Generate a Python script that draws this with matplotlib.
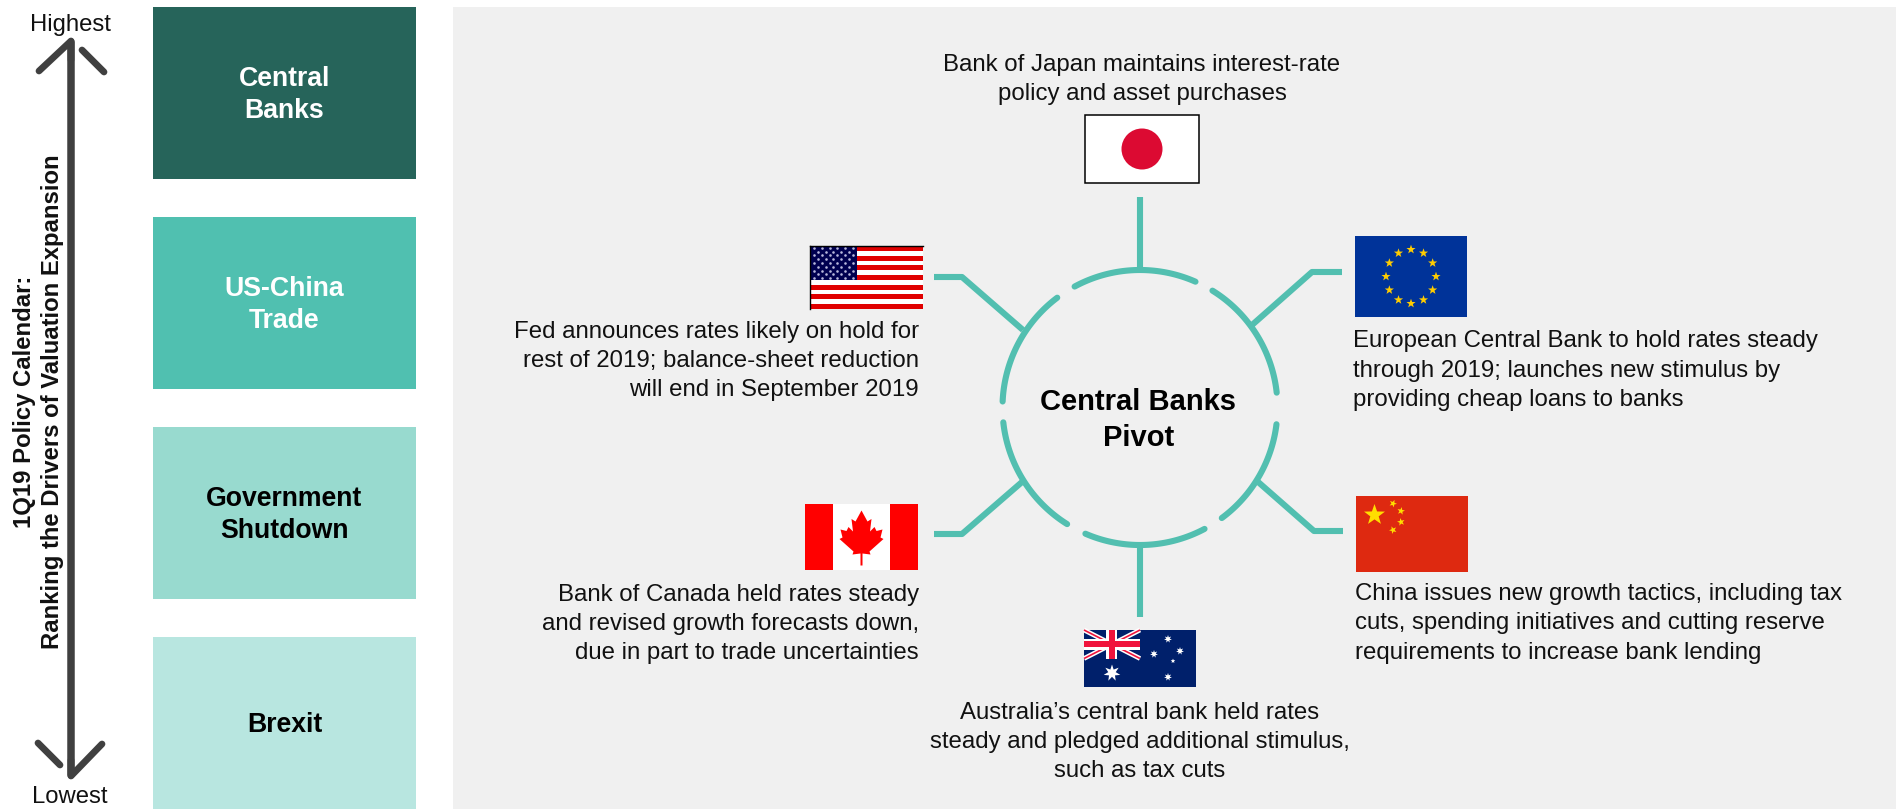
import numpy as np
import matplotlib
matplotlib.use('Agg')
import matplotlib.pyplot as plt
from matplotlib.patches import Rectangle, Polygon, Circle

plt.rcParams['font.family'] = ['Liberation Sans', 'DejaVu Sans']

# left column, top to bottom
drivers = ['Central\nBanks', 'US-China\nTrade', 'Government\nShutdown', 'Brexit']
driver_fill = ['#26645A', '#50C0B0', '#98DACF', '#B8E6E0']
driver_text = ['white', 'white', 'black', 'black']

axis_title = '1Q19 Policy Calendar:\nRanking the Drivers of Valuation Expansion'
axis_top = 'Highest'
axis_bottom = 'Lowest'

hub_label = 'Central Banks\nPivot'
note_japan = 'Bank of Japan maintains interest-rate\npolicy and asset purchases'
note_us = 'Fed announces rates likely on hold for\nrest of 2019; balance-sheet reduction\nwill end in September 2019'
note_eu = 'European Central Bank to hold rates steady\nthrough 2019; launches new stimulus by\nproviding cheap loans to banks'
note_canada = 'Bank of Canada held rates steady\nand revised growth forecasts down,\ndue in part to trade uncertainties'
note_china = 'China issues new growth tactics, including tax\ncuts, spending initiatives and cutting reserve\nrequirements to increase bank lending'
note_australia = 'Australia\u2019s central bank held rates\nsteady and pledged additional stimulus,\nsuch as tax cuts'

TEAL = '#52BFB0'
DARK = '#404040'
W, H = 1896, 809
FS = 17.3


def star(ax, cx, cy, r, color, points=5, inner=0.4, rot=0.0, z=5):
    ang = np.pi / 2 + rot + np.arange(points * 2) * np.pi / points
    rad = np.where(np.arange(points * 2) % 2 == 0, r, r * inner)
    xy = np.c_[cx + rad * np.cos(ang), cy - rad * np.sin(ang)]
    ax.add_patch(Polygon(xy, closed=True, fc=color, ec='none', zorder=z))


def rect(ax, x0, y0, x1, y1, color, z=4):
    ax.add_patch(Rectangle((x0, y0), x1 - x0, y1 - y0, fc=color, ec='none', zorder=z))


def flag_japan(ax, x0, y0, x1, y1):
    ax.add_patch(Rectangle((x0, y0), x1 - x0, y1 - y0, fc='white', ec='black', lw=1.1, zorder=4))
    ax.add_patch(Circle(((x0 + x1) / 2, (y0 + y1) / 2), 20.5, fc='#DC0A32', ec='none', zorder=5))


def flag_us(ax, x0, y0, x1, y1):
    rect(ax, x0, y0, x1, y1, 'white')
    h = (y1 - y0) / 13
    for i in range(0, 13, 2):
        rect(ax, x0, y0 + i * h, x1, y0 + (i + 1) * h, '#E00000')
    cw, ch = (x1 - x0) * 0.415, h * 7
    rect(ax, x0, y0, x0 + cw, y0 + ch, '#000050', z=5)
    # 9 rows of alternating 6 and 5 stars, shown as dots at this size
    xs, ys = [], []
    for row in range(9):
        n = 6 if row % 2 == 0 else 5
        off = 0 if row % 2 == 0 else 0.5
        for col in range(n):
            xs.append(x0 + cw * (col + off + 0.5) / 6)
            ys.append(y0 + ch * (row + 0.5) / 9)
    ax.scatter(xs, ys, s=3.5, c='#B8B8DC', linewidths=0, zorder=6)
    ax.plot([x0, x0], [y0, y1], color='black', lw=1, zorder=7)
    ax.plot([x0, x1], [y0, y0], color='black', lw=1, zorder=7)


def flag_canada(ax, x0, y0, x1, y1):
    rect(ax, x0, y0, x1, y1, '#FF0000')
    w = x1 - x0
    rect(ax, x0 + w * 0.25, y0, x1 - w * 0.25, y1, 'white', z=5)
    cx, top = (x0 + x1) / 2, y0 + 6.5
    # right half of the leaf, mirrored for the left half
    half = [(0, 0), (6, 11), (10, 8.5), (8.5, 21), (13, 16.5), (15, 20.5), (21, 19),
            (19, 27), (22, 28.5), (8, 41), (9, 44), (1, 43), (1, 55)]
    pts = [(cx + a, top + b) for a, b in half] + [(cx - a, top + b) for a, b in half[::-1]]
    ax.add_patch(Polygon(pts, closed=True, fc='#FF0000', ec='none', zorder=6))


def flag_eu(ax, x0, y0, x1, y1):
    rect(ax, x0, y0, x1, y1, '#003399')
    cx, cy = (x0 + x1) / 2, (y0 + y1) / 2
    for a in range(12):
        t = np.deg2rad(a * 30)
        star(ax, cx + 25 * np.sin(t), cy - 27 * np.cos(t), 4.8, '#FFCC00')


def flag_china(ax, x0, y0, x1, y1):
    rect(ax, x0, y0, x1, y1, '#DE2910')
    star(ax, x0 + 18.5, y0 + 19, 11, '#FFDE00')
    for dx, dy, rot in [(37, 7.5, -0.4), (45, 15, -0.2), (45, 26, 0.2), (37, 34, 0.4)]:
        star(ax, x0 + dx, y0 + dy, 4, '#FFDE00', rot=rot)


def flag_australia(ax, x0, y0, x1, y1):
    navy, red = '#00206B', '#F0143C'
    rect(ax, x0, y0, x1, y1, navy)
    qx, qy = x0 + (x1 - x0) / 2, y0 + (y1 - y0) / 2
    for a, b, c, d in [(x0, y0, qx, qy), (x0, qy, qx, y0)]:
        ax.plot([a, c], [b, d], color='white', lw=3.4, solid_capstyle='butt', zorder=5)
        ax.plot([a, c], [b, d], color=red, lw=1.2, solid_capstyle='butt', zorder=5)
    mx, my = (x0 + qx) / 2, (y0 + qy) / 2
    rect(ax, mx - 5.5, y0, mx + 5.5, qy, 'white', z=6)
    rect(ax, x0, my - 5.5, qx, my + 5.5, 'white', z=6)
    rect(ax, mx - 3.2, y0, mx + 3.2, qy, red, z=7)
    rect(ax, x0, my - 3.2, qx, my + 3.2, red, z=7)
    star(ax, mx, y1 - 14, 8.5, 'white', points=7, inner=0.45)
    star(ax, x0 + 84, y0 + 9, 4, 'white', points=7, inner=0.45)
    star(ax, x0 + 70, y0 + 24, 4, 'white', points=7, inner=0.45)
    star(ax, x0 + 96, y0 + 21, 4, 'white', points=7, inner=0.45)
    star(ax, x0 + 89, y0 + 31, 2.4, 'white', points=5, inner=0.45)
    star(ax, x0 + 84, y0 + 47, 4, 'white', points=7, inner=0.45)


fig = plt.figure(figsize=(W / 100, H / 100), dpi=100, facecolor='white')
ax = fig.add_axes([0, 0, 1, 1])
ax.set_xlim(0, W)
ax.set_ylim(H, 0)
ax.axis('off')

# grey panel behind the hub diagram
rect(ax, 453, 7, W, H, '#F0F0F0', z=0)

# ranked boxes
box_tops = [7, 217, 427, 637]
for name, fill, tc, top in zip(drivers, driver_fill, driver_text, box_tops):
    rect(ax, 153, top, 416, top + 172, fill, z=1)
    ax.text(284.5, top + 88, name, ha='center', va='center', fontsize=19.2,
            fontweight='bold', color=tc, linespacing=1.26)

# vertical ranking arrow
arrow_lw = 5.4
ax.plot([71, 71], [42, 775], color=DARK, lw=arrow_lw, solid_capstyle='round', zorder=2)
ax.plot([39, 71, 71], [71, 41, 60], color=DARK, lw=arrow_lw * 0.9, solid_capstyle='round',
        solid_joinstyle='round', zorder=2)
ax.plot([82, 104], [50, 72], color=DARK, lw=arrow_lw * 0.9, solid_capstyle='round', zorder=2)
ax.plot([102, 71, 71], [744, 776, 760], color=DARK, lw=arrow_lw * 0.9, solid_capstyle='round',
        solid_joinstyle='round', zorder=2)
ax.plot([38, 60], [743, 765], color=DARK, lw=arrow_lw * 0.9, solid_capstyle='round', zorder=2)

ax.text(70, 25, axis_top, ha='center', va='center', fontsize=17.2, color='#111111')
ax.text(70, 797, axis_bottom, ha='center', va='center', fontsize=17.2, color='#111111')
ax.text(38.5, 402, axis_title, ha='center', va='center', rotation=90, fontsize=17.2,
        fontweight='bold', color='#111111', linespacing=1.26)

# hub ring, drawn as six separate arcs
hub_x, hub_y, hub_r = 1140, 407.5, 137.5
ring_spans = [(66.2, 118.4), (6.2, 58.2), (127, 177.5), (-53.5, -7), (-113.4, -62), (-173.8, -122)]
for start, end in ring_spans:
    t = np.deg2rad(np.linspace(start, end, 80))
    ax.plot(hub_x + hub_r * np.cos(t), hub_y - hub_r * np.sin(t), color=TEAL, lw=4.4,
            solid_capstyle='round', zorder=3)

# spokes from the ring to the flags
spokes = [
    ([1140, 1140], [197, 270]),
    ([1140, 1140], [545, 617]),
    ([934, 962, 1023], [277, 277, 330]),
    ([1342, 1312, 1252], [272, 272, 325]),
    ([934, 962, 1022], [534, 534, 482]),
    ([1343, 1314, 1257], [531, 531, 481]),
]
for xs, ys in spokes:
    ax.plot(xs, ys, color=TEAL, lw=4.4, solid_capstyle='butt', solid_joinstyle='round', zorder=3)

ax.text(1138.5, 420, hub_label, ha='center', va='center', fontsize=21, fontweight='bold',
        color='black', linespacing=1.39)

flag_japan(ax, 1085, 115, 1199, 183)
flag_us(ax, 810, 246, 923, 309)
flag_canada(ax, 805, 504, 918, 570)
flag_eu(ax, 1355, 236, 1467, 317)
flag_china(ax, 1356, 496, 1468, 572)
flag_australia(ax, 1084, 630, 1196, 687)

txt = dict(fontsize=FS, color='#111111', va='center', linespacing=1.42)
ax.text(1142, 79.5, note_japan, ha='center', multialignment='center', **txt)
ax.text(919, 361, note_us, ha='right', multialignment='right', **txt)
ax.text(1353, 370.5, note_eu, ha='left', multialignment='left', **txt)
ax.text(919, 624, note_canada, ha='right', multialignment='right', **txt)
ax.text(1355, 623.5, note_china, ha='left', multialignment='left', **txt)
ax.text(1140, 742, note_australia, ha='center', multialignment='center', **txt)

fig.savefig('out.png', dpi=100)
